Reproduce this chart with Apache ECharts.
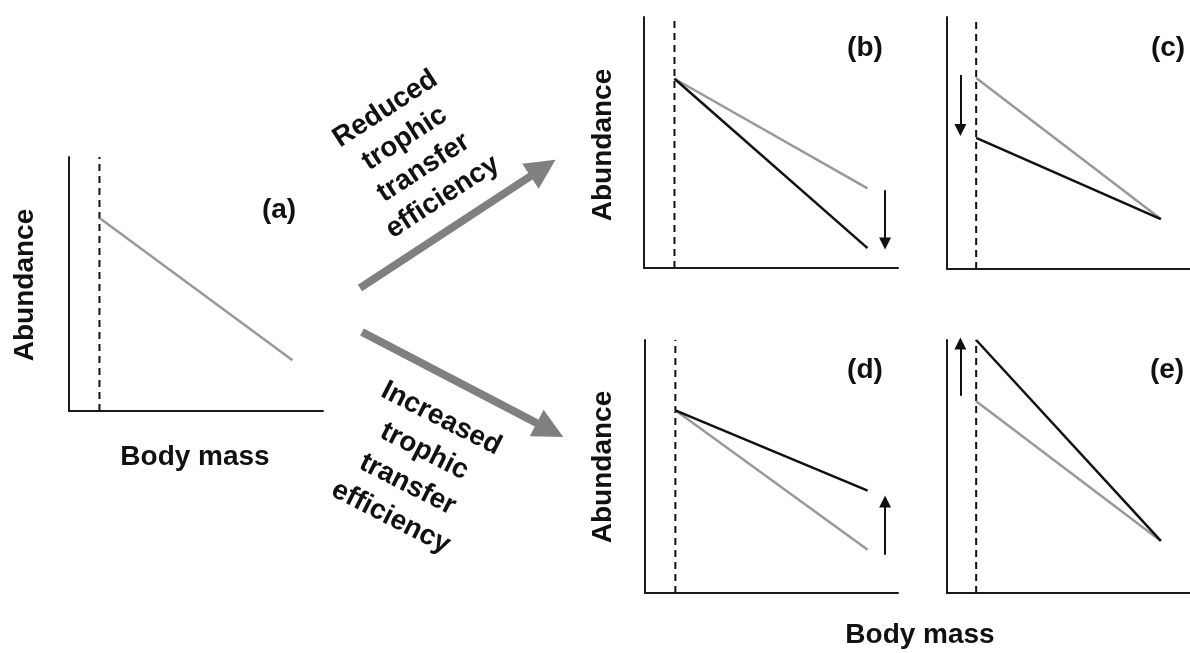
<!DOCTYPE html>
<html><head><meta charset="utf-8">
<script src="https://cdn.jsdelivr.net/npm/echarts@6/dist/echarts.min.js"></script>
<style>html,body{margin:0;padding:0;background:#fff}#c{width:1190px;height:653px}</style>
</head><body><div id="c"></div>
<script>
// ---- data (body mass and abundance on a 0-100 conceptual scale) ----
const panelLabels = ['(a)', '(b)', '(c)', '(d)', '(e)'];
const xDash = 12;            // minimum body mass (dashed line)
const xStart = 12;           // size spectrum start
const xEnd = 88;             // size spectrum end
const grayStart = [76, 75.4, 75.8, 72.2, 75.8];     // reference spectrum
const grayEnd   = [20, 31.7, 19.8, 17.1, 20.6];
const blackStart = [null, 75.4, 52.0, 72.2, 100];  // altered spectrum
const blackEnd   = [null, 7.9, 19.8, 40.5, 20.6];
const arrowX    = [null, 94.9, 5.5, 94.9, 5.5];     // change arrows
const arrowFrom = [null, 31.0, 77.0, 15.1, 78.0];
const arrowTo   = [null, 9.8, 55.2, 36.2, 98.6];
// big transition arrows on the page-level overlay (pixel scale)
const bigArrowFrom = [[360, 288], [362, 332]];
const bigArrowTo   = [[543, 168], [550, 430]];

const FONT = 'bold 28px "Liberation Sans", Arial, sans-serif';
const grids = [
  {left: 69, top: 157, width: 254, height: 254},
  {left: 644, top: 17, width: 254, height: 251},
  {left: 947, top: 17, width: 254, height: 252},
  {left: 645, top: 340, width: 253, height: 253},
  {left: 947, top: 340, width: 254, height: 253},
  {left: 0, top: 0, width: 1190, height: 653}
];
const axisLine = {show: true, onZero: false, lineStyle: {color: '#1a1a1a', width: 2}};
const xAxes = [], yAxes = [], series = [];
for (let i = 0; i < 5; i++) {
  xAxes.push({gridIndex: i, type: 'value', min: 0, max: 100, axisLine, axisTick: {show: false}, axisLabel: {show: false}, splitLine: {show: false}});
  yAxes.push({gridIndex: i, type: 'value', min: 0, max: 100, axisLine, axisTick: {show: false}, axisLabel: {show: false}, splitLine: {show: false}});
  series.push({type: 'line', xAxisIndex: i, yAxisIndex: i, symbol: 'none', silent: true,
    data: [[xDash, 0], [xDash, 100]], lineStyle: {color: '#111', width: 2, type: [7, 5]}});
  series.push({type: 'line', xAxisIndex: i, yAxisIndex: i, symbol: 'none', silent: true,
    data: [[xStart, grayStart[i]], [xEnd, grayEnd[i]]], lineStyle: {color: '#999', width: 2.5}});
  if (blackStart[i] !== null) {
    series.push({type: 'line', xAxisIndex: i, yAxisIndex: i, symbol: 'none', silent: true,
      data: [[xStart, blackStart[i]], [xEnd, blackEnd[i]]], lineStyle: {color: '#111', width: 2.5}});
    series.push({type: 'lines', coordinateSystem: 'cartesian2d', xAxisIndex: i, yAxisIndex: i, silent: true, clip: false,
      symbol: ['none', 'triangle'], symbolSize: 12,
      lineStyle: {color: '#111', width: 2, opacity: 1},
      data: [{coords: [[arrowX[i], arrowFrom[i]], [arrowX[i], arrowTo[i]]]}]});
  }
}
xAxes.push({gridIndex: 5, type: 'value', min: 0, max: 1190, show: false});
yAxes.push({gridIndex: 5, type: 'value', min: 0, max: 653, inverse: true, show: false});
series.push({type: 'lines', coordinateSystem: 'cartesian2d', xAxisIndex: 5, yAxisIndex: 5, silent: true, clip: false,
  symbol: ['none', 'triangle'], symbolSize: 30,
  lineStyle: {color: '#808080', width: 8, opacity: 1},
  itemStyle: {color: '#808080'},
  data: bigArrowFrom.map((p, k) => ({coords: [p, bigArrowTo[k]]}))});

function txt(text, x, y, rot, extra) {
  return Object.assign({type: 'text', x, y, rotation: (rot || 0) * Math.PI / 180, silent: true,
    style: Object.assign({text, font: FONT, fill: '#111', align: 'center', verticalAlign: 'middle'}, extra || {})});
}
const labelPos = [[279, 210], [865, 48], [1168, 48], [865, 370], [1167, 370]];
const graphic = panelLabels.map((t, i) => txt(t, labelPos[i][0], labelPos[i][1]));
graphic.push(txt('Abundance', 25, 285, 90), txt('Abundance', 603, 145, 90), txt('Abundance', 603, 467, 90));
graphic.push(txt('Body mass', 195, 457), txt('Body mass', 920, 635));
graphic.push(txt('Reduced\ntrophic\ntransfer\nefficiency', 414, 153, 33, {lineHeight: 35}));
graphic.push(txt('Increased\ntrophic\ntransfer\nefficiency', 416, 468, -27, {lineHeight: 37}));

const chart = echarts.init(document.getElementById('c'), null, {renderer: 'canvas'});
chart.setOption({animation: false, backgroundColor: '#fff', grid: grids, xAxis: xAxes, yAxis: yAxes, series, graphic});
</script></body></html>
